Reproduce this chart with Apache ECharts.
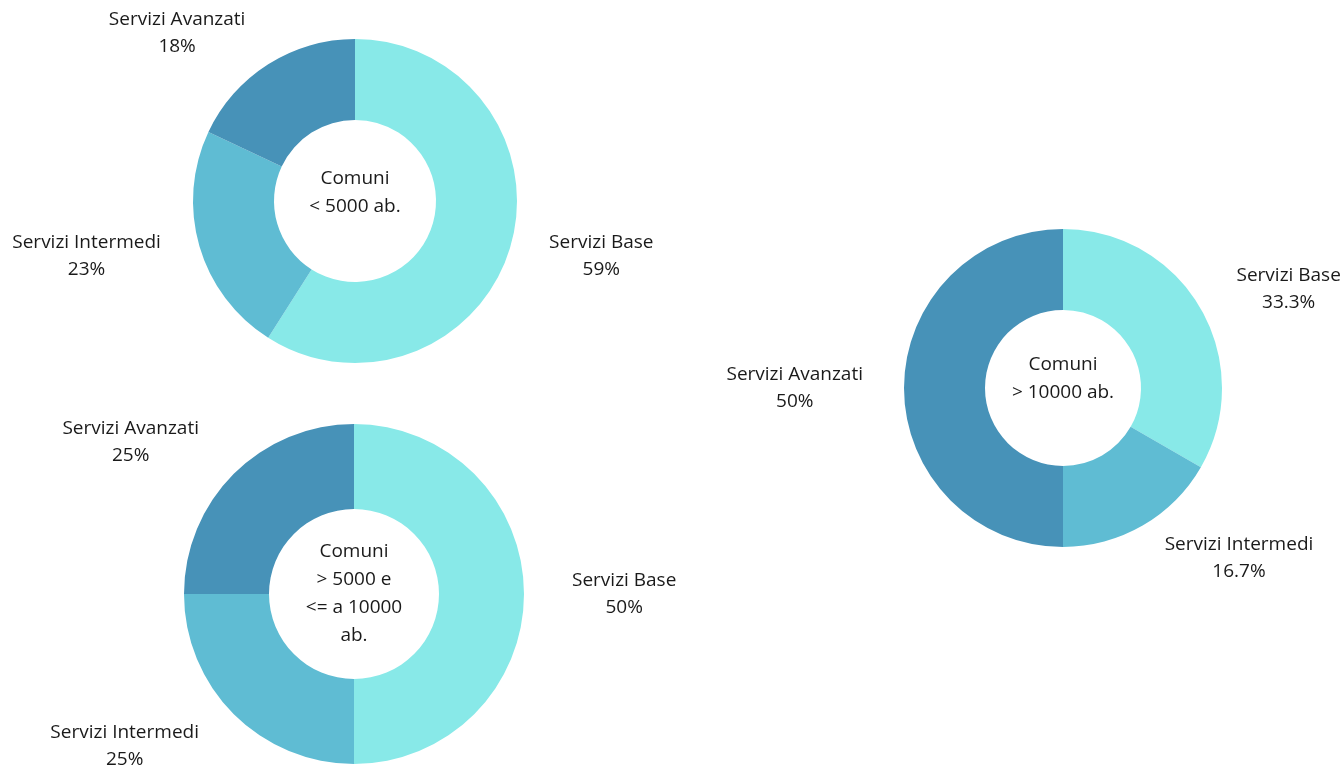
<!DOCTYPE html>
<html>
<head>
<meta charset="utf-8">
<style>
  html, body { margin: 0; padding: 0; background: #ffffff; }
  #chart { width: 1344px; height: 770px; }
</style>
<script src="https://cdn.jsdelivr.net/npm/echarts@6/dist/echarts.min.js"></script>
</head>
<body>
<div id="chart"></div>
<script>
// Service categories (same order in every ring, clockwise from 12 o'clock)
const categories = ['Servizi Base', 'Servizi Intermedi', 'Servizi Avanzati'];

// Share of services (%) by municipality size
const small = [59, 23, 18];        // Comuni < 5000 ab.
const medium = [50, 25, 25];       // Comuni > 5000 e <= a 10000 ab.
const large = [33.3, 16.7, 50];    // Comuni > 10000 ab.

// Centre captions
const captions = [
  'Comuni\n< 5000 ab.',
  'Comuni\n> 5000 e\n<= a 10000\nab.',
  'Comuni\n> 10000 ab.'
];

const colors = ['#88e9e8', '#5fbcd3', '#4792b8'];
const FONT = '"Open Sans", Lato, sans-serif';
const TEXT = '#1a1a1a';

// Ring geometry: centre, radii, label offset and vertical nudge of the centre caption
const rings = [
  { values: small,  center: [355, 201],  radius: [81, 162], labelGap: 37, captionDy: -8 },
  { values: medium, center: [354, 594],  radius: [85, 170], labelGap: 45, captionDy: 0 },
  { values: large,  center: [1063, 388], radius: [78, 159], labelGap: 38, captionDy: -9 }
];

function toData(values) {
  return categories.map((name, i) => ({
    name: name,
    value: values[i],
    itemStyle: { color: colors[i] }
  }));
}

const series = rings.map(r => ({
  type: 'pie',
  center: r.center,
  radius: r.radius,
  startAngle: 90,
  clockwise: true,
  silent: true,
  avoidLabelOverlap: false,
  data: toData(r.values),
  label: {
    show: true,
    position: 'outside',
    distanceToLabelLine: 3,
    formatter: p => '{t|' + p.name + '}\n{t|' + p.value + '%}',
    rich: {
      t: {
        fontFamily: FONT,
        fontSize: 19,
        color: TEXT,
        lineHeight: 27,
        align: 'center'
      }
    }
  },
  labelLine: { show: false, length: r.labelGap, length2: 0 }
}));

const graphic = rings.map((r, i) => ({
  type: 'text',
  x: r.center[0],
  y: r.center[1] + r.captionDy,
  silent: true,
  style: {
    text: captions[i],
    align: 'center',
    verticalAlign: 'middle',
    fontFamily: FONT,
    fontSize: 19,
    lineHeight: 28,
    fill: TEXT
  }
}));

const chart = echarts.init(document.getElementById('chart'), null, { renderer: 'canvas' });
chart.setOption({
  backgroundColor: '#ffffff',
  animation: false,
  series: series,
  graphic: graphic
});
</script>
</body>
</html>
